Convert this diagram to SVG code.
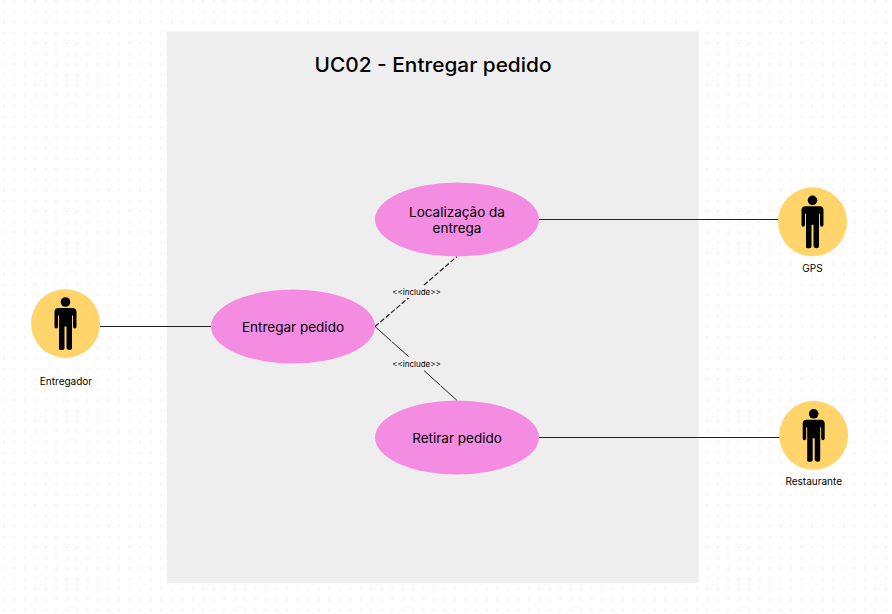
<svg xmlns="http://www.w3.org/2000/svg" width="892" height="614" viewBox="0 0 892 614">
<style>
text{font-family:Inter,"Liberation Sans",sans-serif;fill:#000;text-anchor:middle}
.uc{fill:#f48de2}.ac{fill:#ffd56b}
.uct{font-size:13.5px}.act{font-size:10px}.inc{font-size:8px}
.l{stroke:#222;stroke-width:1.2;fill:none}
</style>
<defs>
<pattern id="dots" width="10.5" height="10.5" patternUnits="userSpaceOnUse" x="0" y="0.2">
<rect x="2.6" y="0" width="2" height="2" fill="#f0f0f0"/>
</pattern>
<g id="person">
<circle cx="0" cy="-21.500" r="4.800" fill="#000"/>
<path d="M-7-15.500H7Q11-15.500 11-11.500V3Q11 5 9.300 5T7.500 3V-8H6.500V24.500Q6.500 26.500 4 26.500T1 24.500V3H-1V24.500Q-1 26.500-4 26.500T-6.500 24.500V-8H-7.500V3Q-7.500 5-9.300 5T-11 3V-11.500Q-11-15.500-7-15.500Z" fill="#000"/>
</g>
</defs>
<rect width="892" height="614" fill="#fff"/>
<rect width="892" height="614" fill="url(#dots)"/>
<rect id="boundary" x="167" y="31.500" width="531.500" height="551.500" fill="#eeeeee"/>
<text x="433" y="71.500" style="font-size:20px;font-weight:500" textLength="237" lengthAdjust="spacingAndGlyphs">UC02 - Entregar pedido</text>
<g id="connectors">
<line class="l" x1="100" y1="326.500" x2="212" y2="326.500"/>
<line class="l" x1="539" y1="219.500" x2="779" y2="219.500"/>
<line class="l" x1="539" y1="437.500" x2="780" y2="437.500"/>
<path class="l" stroke-dasharray="5 2" d="M375 326.500L408.500 298M424 285L457 256.500"/>
<path class="l" style="stroke-width:1;stroke-dasharray:22 1" d="M375 326.500L408.500 356.500M424 370.500L457 400.500"/>
<text class="inc" x="416.500" y="294.500">&lt;&lt;include&gt;&gt;</text>
<text class="inc" x="416.500" y="366.500">&lt;&lt;include&gt;&gt;</text>
</g>
<g id="uc-entregar"><ellipse class="uc" cx="293" cy="326.500" rx="82" ry="37"/><text class="uct" x="293" y="332">Entregar pedido</text></g>
<g id="uc-localizacao"><ellipse class="uc" cx="457" cy="219.500" rx="82" ry="37"/><text class="uct" x="457" y="217">Localização da</text><text class="uct" x="457" y="233">entrega</text></g>
<g id="uc-retirar"><ellipse class="uc" cx="457" cy="437.500" rx="82" ry="37"/><text class="uct" x="457" y="443">Retirar pedido</text></g>
<g id="actor-entregador"><circle class="ac" cx="65.500" cy="323.500" r="34.500"/><use href="#person" x="65.500" y="323.500"/><text class="act" x="66" y="385">Entregador</text></g>
<g id="actor-gps"><circle class="ac" cx="812.500" cy="221.800" r="34.500"/><use href="#person" x="812.500" y="221.800"/><text class="act" x="812.500" y="272">GPS</text></g>
<g id="actor-restaurante"><circle class="ac" cx="813.700" cy="435.300" r="34.500"/><use href="#person" x="813.700" y="435.300"/><text class="act" x="813.700" y="485">Restaurante</text></g>
</svg>
